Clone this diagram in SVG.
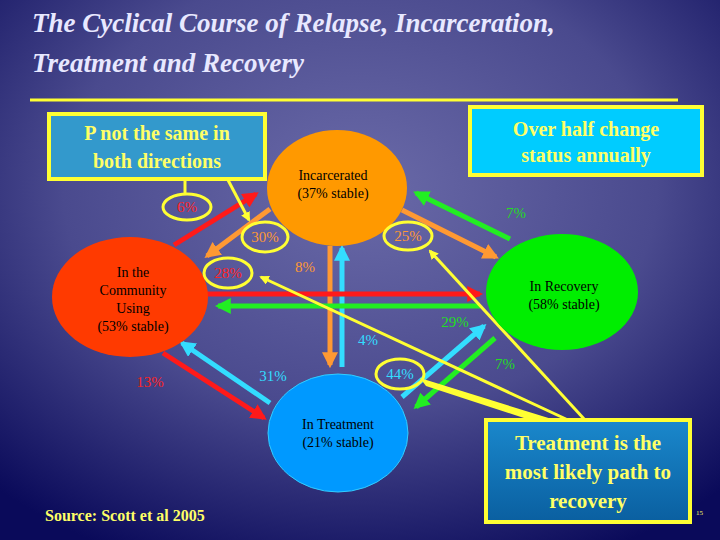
<svg xmlns="http://www.w3.org/2000/svg" width="720" height="540" viewBox="0 0 720 540">
<defs>
<radialGradient id="bg" cx="0.5" cy="0.35" r="0.75">
<stop offset="0" stop-color="#6a6aa8"/><stop offset="0.55" stop-color="#4a4a8e"/><stop offset="1" stop-color="#0a0a5a"/>
</radialGradient>
<linearGradient id="tb" x1="0" y1="0" x2="0" y2="1"><stop offset="0" stop-color="#1a88cc"/><stop offset="1" stop-color="#0a5fa0"/></linearGradient>
<marker id="r" viewBox="0 0 10 10" refX="8" refY="5" markerWidth="3.2" markerHeight="3.2" orient="auto"><path d="M0,0L10,5L0,10z" fill="#ff1a1a"/></marker>
<marker id="o" viewBox="0 0 10 10" refX="8" refY="5" markerWidth="3.2" markerHeight="3.2" orient="auto"><path d="M0,0L10,5L0,10z" fill="#ff9933"/></marker>
<marker id="c" viewBox="0 0 10 10" refX="8" refY="5" markerWidth="3.2" markerHeight="3.2" orient="auto"><path d="M0,0L10,5L0,10z" fill="#33ddff"/></marker>
<marker id="g" viewBox="0 0 10 10" refX="8" refY="5" markerWidth="3.2" markerHeight="3.2" orient="auto"><path d="M0,0L10,5L0,10z" fill="#22ee22"/></marker>
<marker id="y" viewBox="0 0 10 10" refX="8" refY="5" markerWidth="3.2" markerHeight="3.2" orient="auto"><path d="M0,0L10,5L0,10z" fill="#ffff33"/></marker>
</defs>
<style>
text{font-family:"Liberation Serif","DejaVu Serif","Times New Roman",serif}
.t{font-style:italic;font-weight:bold;font-size:27px;fill:#e8e8ff}
.bx{stroke:#ffff33;stroke-width:4}
.bt{font-weight:bold;fill:#ffff66;text-anchor:middle}
.nt{font-size:14px;fill:#000;text-anchor:middle}
.lb{font-size:15px;text-anchor:middle}
.ring{fill:none;stroke:#ffff33;stroke-width:3}
.yl{stroke:#ffff33;stroke-width:3;fill:none}
.a{stroke-width:5;fill:none}
</style>
<rect width="720" height="540" fill="url(#bg)"/>
<text class="t" x="32" y="32">The Cyclical Course of Relapse, Incarceration,</text>
<text class="t" x="32" y="72">Treatment and Recovery</text>
<line x1="30" y1="100" x2="678" y2="100" stroke="#ffff33" stroke-width="3"/>

<g id="connectors">
<line class="a" x1="174" y1="245" x2="256" y2="194" stroke="#ff1a1a" marker-end="url(#r)"/>
<line class="a" x1="270" y1="209" x2="207" y2="256" stroke="#ff9933" marker-end="url(#o)"/>
<line class="a" x1="330" y1="246" x2="330" y2="365" stroke="#ff9933" marker-end="url(#o)"/>
<line class="a" x1="342" y1="367" x2="342" y2="248" stroke="#33ddff" marker-end="url(#c)"/>
<line class="a" x1="207" y1="294" x2="480" y2="294" stroke="#ff1a1a" marker-end="url(#r)"/>
<line class="a" x1="480" y1="306" x2="218" y2="306" stroke="#22ee22" marker-end="url(#g)"/>
<line class="a" x1="402" y1="210" x2="496" y2="257" stroke="#ff9933" marker-end="url(#o)"/>
<line class="a" x1="510" y1="239" x2="416" y2="193" stroke="#22ee22" marker-end="url(#g)"/>
<line class="a" x1="163" y1="353" x2="264" y2="418" stroke="#ff1a1a" marker-end="url(#r)"/>
<line class="a" x1="270" y1="403" x2="182" y2="343" stroke="#33ddff" marker-end="url(#c)"/>
<line class="a" x1="402" y1="397" x2="484" y2="326" stroke="#33ddff" marker-end="url(#c)"/>
<line class="a" x1="495" y1="338" x2="416" y2="407" stroke="#22ee22" marker-end="url(#g)"/>
</g>

<g id="callouts">
<line class="yl" x1="185" y1="180" x2="185" y2="195"/>
<line class="yl" x1="228" y1="180" x2="249" y2="220" marker-end="url(#y)"/>
<line class="yl" x1="568" y1="420" x2="261" y2="277" marker-end="url(#y)"/>
<line class="yl" x1="585" y1="420" x2="430" y2="251" marker-end="url(#y)"/>
<polygon points="420,378 426,386 530,420 555,420" fill="#ffff33"/>
</g>

<g id="community"><ellipse cx="130" cy="297" rx="78" ry="60" fill="#ff3a00"/>
<text class="nt" x="133" y="277">In the</text><text class="nt" x="133" y="295">Community</text><text class="nt" x="133" y="313">Using</text><text class="nt" x="133" y="331">(53% stable)</text></g>
<g id="incarcerated"><ellipse cx="337" cy="188" rx="70" ry="58" fill="#ff9900"/>
<text class="nt" x="333" y="180">Incarcerated</text><text class="nt" x="333" y="198">(37% stable)</text></g>
<g id="recovery"><ellipse cx="562" cy="292" rx="76" ry="58" fill="#00ee00"/>
<text class="nt" x="564" y="291">In Recovery</text><text class="nt" x="564" y="309">(58% stable)</text></g>
<g id="treatment"><ellipse cx="338" cy="433" rx="70" ry="59" fill="#0099ff" stroke="#33ccff"/>
<text class="nt" x="338" y="429">In Treatment</text><text class="nt" x="338" y="447">(21% stable)</text></g>

<g id="labels">
<ellipse class="ring" cx="187" cy="207" rx="24" ry="13"/><text class="lb" x="187" y="212" fill="#ff2222">6%</text>
<ellipse class="ring" cx="265" cy="237" rx="23" ry="15"/><text class="lb" x="265" y="242" fill="#ff9933">30%</text>
<ellipse class="ring" cx="228" cy="273" rx="24" ry="15"/><text class="lb" x="228" y="278" fill="#ff2222">28%</text>
<text class="lb" x="305" y="272" fill="#ff9933">8%</text>
<ellipse class="ring" cx="408" cy="236" rx="24" ry="14"/><text class="lb" x="408" y="241" fill="#ff9933">25%</text>
<text class="lb" x="516" y="218" fill="#22dd22">7%</text>
<text class="lb" x="455" y="327" fill="#22dd22">29%</text>
<text class="lb" x="368" y="345" fill="#33ddff">4%</text>
<text class="lb" x="273" y="381" fill="#33ddff">31%</text>
<text class="lb" x="150" y="387" fill="#ff2222">13%</text>
<ellipse class="ring" cx="400" cy="374" rx="24" ry="15"/><text class="lb" x="400" y="379" fill="#33ddff">44%</text>
<text class="lb" x="505" y="369" fill="#22dd22">7%</text>
</g>

<g id="box1"><rect class="bx" x="49" y="114" width="216" height="65" fill="#3399cc"/>
<text class="bt" x="157" y="140" font-size="20">P not the same in</text><text class="bt" x="157" y="168" font-size="20">both directions</text></g>
<g id="box2"><rect class="bx" x="470" y="107" width="232" height="68" fill="#00ccff"/>
<text class="bt" x="586" y="136" font-size="20">Over half change</text><text class="bt" x="586" y="162" font-size="20">status annually</text></g>
<g id="box3"><rect class="bx" x="486" y="420" width="204" height="102" fill="url(#tb)"/>
<text class="bt" x="588" y="450" font-size="21">Treatment is the</text><text class="bt" x="588" y="479" font-size="21">most likely path to</text><text class="bt" x="588" y="508" font-size="21">recovery</text></g>
<text x="45" y="521" font-weight="bold" font-size="16" fill="#ffff66">Source: Scott et al 2005</text>
<text x="696" y="515" font-size="7" fill="#ffff66">15</text>
</svg>
